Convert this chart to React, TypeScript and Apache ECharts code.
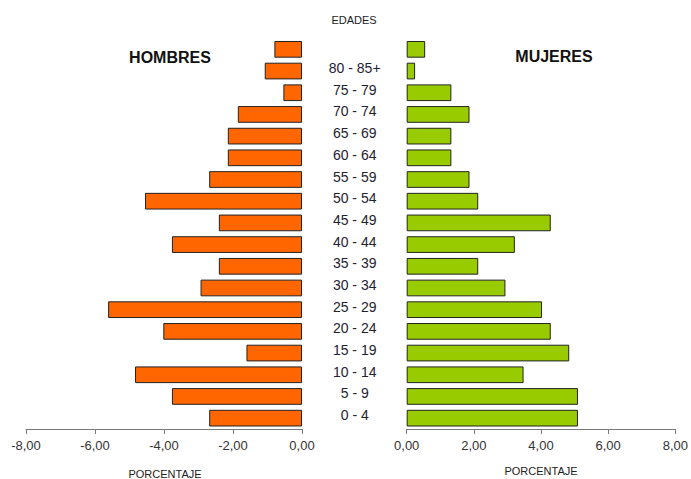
import React, { useEffect, useRef } from "react";
import * as echarts from "echarts";

const categories = [
  "", "80 - 85+", "75 - 79", "70 - 74", "65 - 69", "60 - 64", "55 - 59", "50 - 54", "45 - 49",
  "40 - 44", "35 - 39", "30 - 34", "25 - 29", "20 - 24", "15 - 19", "10 - 14", "5 - 9", "0 - 4",
];
const hombres = [
  -0.8, -1.08, -0.54, -1.86, -2.15, -2.15, -2.69, -4.55, -2.41,
  -3.77, -2.41, -2.94, -5.62, -4.02, -1.61, -4.84, -3.77, -2.69,
];
const mujeres = [
  0.55, 0.25, 1.33, 1.87, 1.33, 1.33, 1.87, 2.13, 4.29,
  3.22, 2.13, 2.94, 4.03, 4.29, 4.84, 3.48, 5.1, 5.1,
];
const leftTicks = { min: -8, max: 0, interval: 2 };
const rightTicks = { min: 0, max: 8, interval: 2 };

const fmt = (v: number) => (Math.abs(v) < 1e-9 ? 0 : v).toFixed(2).replace(".", ",");

export default function App() {
  const ref = useRef<HTMLDivElement>(null);
  useEffect(() => {
    if (!ref.current) return;
    const chart = echarts.init(ref.current, null, { renderer: "svg" });
    const font = "Arial, 'Liberation Sans', sans-serif";
    const axisCommon = {
      axisLine: { show: true, lineStyle: { color: "#7a7a7a", width: 1 } },
      axisTick: { show: true, length: 5, lineStyle: { color: "#7a7a7a" } },
      splitLine: { show: false },
      axisLabel: { color: "#333", fontSize: 13, fontFamily: font, margin: 10, formatter: fmt },
    };
    chart.setOption({
      animation: false,
      backgroundColor: "#ffffff",
      textStyle: { fontFamily: font },
      grid: [
        { left: 26, width: 276, top: 38.5, height: 390.5 },
        { left: 406.7, width: 270.3, top: 38.5, height: 390.5 },
      ],
      xAxis: [
        { type: "value", gridIndex: 0, ...leftTicks, ...axisCommon },
        { type: "value", gridIndex: 1, ...rightTicks, ...axisCommon },
      ],
      yAxis: [
        {
          type: "category", gridIndex: 0, data: categories, inverse: true,
          axisLine: { show: false }, axisTick: { show: false }, axisLabel: { show: false },
        },
        {
          type: "category", gridIndex: 1, data: categories, inverse: true,
          axisLine: { show: false }, axisTick: { show: false }, axisLabel: { show: false },
        },
      ],
      series: [
        {
          type: "bar", xAxisIndex: 0, yAxisIndex: 0, data: hombres,
          barCategoryGap: "23%",
          itemStyle: { color: "#FF6600", borderColor: "#222", borderWidth: 1 },
        },
        {
          type: "bar", xAxisIndex: 1, yAxisIndex: 1, data: mujeres,
          barCategoryGap: "23%",
          itemStyle: { color: "#99CC00", borderColor: "#222", borderWidth: 1 },
          label: {
            show: true,
            position: [-52, "50%"],
            offset: [0, -3],
            align: "center",
            verticalAlign: "middle",
            color: "#222233",
            fontSize: 14,
            fontFamily: font,
            formatter: (p: any) => categories[p.dataIndex],
          },
        },
      ],
      graphic: [
        { type: "text", x: 354, y: 20, style: { text: "EDADES", fill: "#222", fontSize: 11, fontFamily: font, align: "center", verticalAlign: "middle" } },
        { type: "text", x: 170, y: 57, style: { text: "HOMBRES", fill: "#111", fontSize: 16, fontWeight: "bold", fontFamily: font, align: "center", verticalAlign: "middle" } },
        { type: "text", x: 554, y: 56, style: { text: "MUJERES", fill: "#111", fontSize: 16, fontWeight: "bold", fontFamily: font, align: "center", verticalAlign: "middle" } },
        { type: "text", x: 165, y: 474, style: { text: "PORCENTAJE", fill: "#222", fontSize: 11, fontFamily: font, align: "center", verticalAlign: "middle" } },
        { type: "text", x: 541, y: 471, style: { text: "PORCENTAJE", fill: "#222", fontSize: 11, fontFamily: font, align: "center", verticalAlign: "middle" } },
      ],
    });
    return () => chart.dispose();
  }, []);
  return (
    <div
      ref={ref}
      style={{ position: "fixed", left: 0, top: 0, width: 691, height: 479, background: "#fff" }}
    />
  );
}
